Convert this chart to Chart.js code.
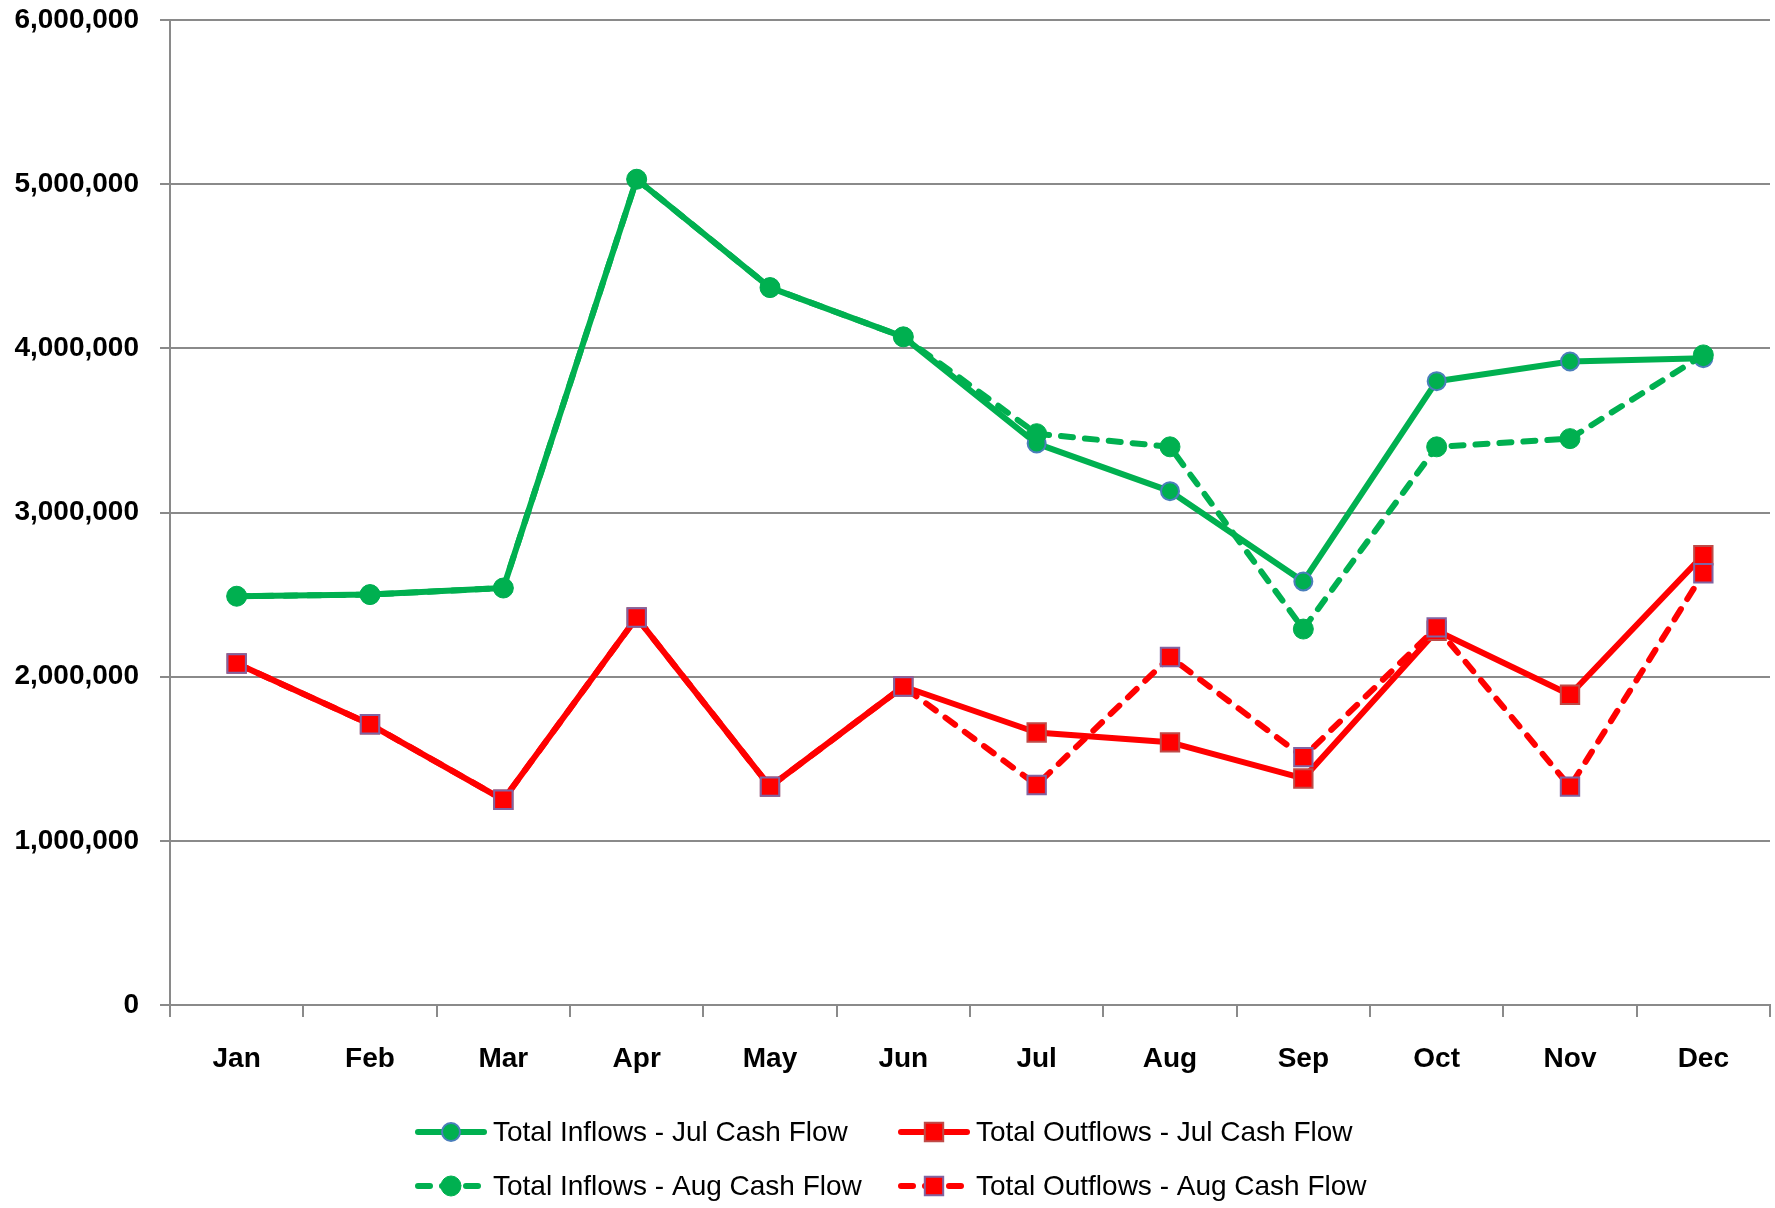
<!DOCTYPE html>
<html>
<head>
<meta charset="utf-8">
<title>Cash Flow – Total Inflows and Outflows</title>
<script src="https://cdn.jsdelivr.net/npm/chart.js@4.4.1/dist/chart.umd.min.js"></script>
<style>
  html, body { margin: 0; padding: 0; background: #ffffff; }
  #wrap { width: 1775px; height: 1208px; }
  canvas { display: block; }
</style>
</head>
<body>
<div id="wrap"><canvas id="cashChart" width="1775" height="1208"></canvas></div>
<script>
// Months on the category axis
const months = ['Jan', 'Feb', 'Mar', 'Apr', 'May', 'Jun', 'Jul', 'Aug', 'Sep', 'Oct', 'Nov', 'Dec'];

// Series values
const inflowsJul  = [2490000, 2500000, 2540000, 5030000, 4370000, 4070000, 3420000, 3130000, 2580000, 3800000, 3920000, 3940000];
const outflowsJul = [2080000, 1710000, 1250000, 2360000, 1330000, 1940000, 1660000, 1600000, 1380000, 2280000, 1890000, 2740000];
const inflowsAug  = [2490000, 2500000, 2540000, 5030000, 4370000, 4070000, 3480000, 3400000, 2290000, 3400000, 3450000, 3960000];
const outflowsAug = [2080000, 1710000, 1250000, 2360000, 1330000, 1940000, 1340000, 2120000, 1510000, 2300000, 1330000, 2630000];

// Series names
const seriesNames = [
  'Total Inflows - Jul Cash Flow',
  'Total Outflows - Jul Cash Flow',
  'Total Inflows - Aug Cash Flow',
  'Total Outflows - Aug Cash Flow'
];

// Value axis range
const yMin = 0;
const yMax = 6000000;
const yStep = 1000000;

const GREEN = '#00B050';
const RED = '#FF0000';
const AXIS_GREY = '#8a8a8a';
const LINE_W = 6;
const DASH = [12, 12];
const FONT_FAMILY = "'Liberation Sans', Arial, sans-serif";

// Legend drawn as two rows of two entries beneath the axis labels
const legendLayout = {
  columns: [415, 898],
  rows: [1132, 1186],
  sampleWidth: 72,
  textGap: 6
};

const cashLegend = {
  id: 'cashLegend',
  afterDraw(chart) {
    const ctx = chart.ctx;
    const sets = chart.data.datasets;
    ctx.save();
    sets.forEach((ds, i) => {
      const x0 = legendLayout.columns[i % 2];
      const y = legendLayout.rows[Math.floor(i / 2)];
      const x1 = x0 + legendLayout.sampleWidth;
      const cx = (x0 + x1) / 2;
      // line sample
      ctx.beginPath();
      ctx.lineWidth = ds.borderWidth;
      ctx.strokeStyle = ds.borderColor;
      ctx.lineCap = 'round';
      ctx.setLineDash(ds.borderDash || []);
      ctx.moveTo(x0 + LINE_W / 2, y);
      ctx.lineTo(x1 - LINE_W / 2, y);
      ctx.stroke();
      ctx.setLineDash([]);
      // marker sample
      ctx.fillStyle = ds.pointBackgroundColor;
      ctx.strokeStyle = ds.pointBorderColor;
      ctx.lineWidth = ds.pointBorderWidth;
      ctx.beginPath();
      if (ds.pointStyle === 'rect') {
        const half = ds.pointRadius * Math.SQRT1_2;
        ctx.rect(cx - half, y - half, half * 2, half * 2);
      } else {
        ctx.arc(cx, y, ds.pointRadius, 0, Math.PI * 2);
      }
      ctx.fill();
      if (ds.pointBorderWidth > 0) ctx.stroke();
      // label
      ctx.fillStyle = '#000000';
      ctx.font = '28px ' + FONT_FAMILY;
      ctx.textAlign = 'left';
      ctx.textBaseline = 'middle';
      ctx.fillText(ds.label, x1 + legendLayout.textGap, y + 1);
    });
    ctx.restore();
  }
};

const ctx = document.getElementById('cashChart').getContext('2d');
new Chart(ctx, {
  type: 'line',
  data: {
    labels: months,
    datasets: [
      {
        label: seriesNames[0],
        data: inflowsJul,
        borderColor: GREEN,
        borderWidth: LINE_W,
        borderCapStyle: 'round',
        borderJoinStyle: 'round',
        pointStyle: 'circle',
        pointRadius: 9,
        pointBackgroundColor: GREEN,
        pointBorderColor: '#4A7EBB',
        pointBorderWidth: 2,
        tension: 0,
        fill: false,
        order: 4
      },
      {
        label: seriesNames[1],
        data: outflowsJul,
        borderColor: RED,
        borderWidth: LINE_W,
        borderCapStyle: 'round',
        borderJoinStyle: 'round',
        pointStyle: 'rect',
        pointRadius: 13,
        pointBackgroundColor: RED,
        pointBorderColor: '#BE4B48',
        pointBorderWidth: 2,
        tension: 0,
        fill: false,
        order: 3
      },
      {
        label: seriesNames[2],
        data: inflowsAug,
        borderColor: GREEN,
        borderWidth: LINE_W,
        borderDash: DASH,
        borderCapStyle: 'round',
        borderJoinStyle: 'round',
        pointStyle: 'circle',
        pointRadius: 10,
        pointBackgroundColor: GREEN,
        pointBorderColor: GREEN,
        pointBorderWidth: 1,
        tension: 0,
        fill: false,
        order: 2
      },
      {
        label: seriesNames[3],
        data: outflowsAug,
        borderColor: RED,
        borderWidth: LINE_W,
        borderDash: DASH,
        borderCapStyle: 'round',
        borderJoinStyle: 'round',
        pointStyle: 'rect',
        pointRadius: 13,
        pointBackgroundColor: RED,
        pointBorderColor: '#8064A2',
        pointBorderWidth: 2,
        tension: 0,
        fill: false,
        order: 1
      }
    ]
  },
  options: {
    responsive: false,
    animation: false,
    events: [],
    layout: { autoPadding: false, padding: { left: 0, right: 5, top: 20, bottom: 0 } },
    plugins: {
      legend: { display: false },
      tooltip: { enabled: false },
      title: { display: false }
    },
    scales: {
      x: {
        offset: true,
        grid: {
          offset: true,
          drawOnChartArea: false,
          drawTicks: true,
          tickLength: 12,
          color: AXIS_GREY,
          lineWidth: 2
        },
        border: { display: true, color: AXIS_GREY, width: 2 },
        ticks: {
          color: '#000000',
          font: { family: FONT_FAMILY, size: 28, weight: 'bold' },
          padding: 25,
          maxRotation: 0,
          autoSkip: false
        },
        afterFit(scale) {
          scale.height = 203;
          scale.paddingLeft = 0;
          scale.paddingRight = 0;
        }
      },
      y: {
        min: yMin,
        max: yMax,
        grid: {
          color: AXIS_GREY,
          lineWidth: 2,
          drawTicks: true,
          tickLength: 10
        },
        border: { display: true, color: AXIS_GREY, width: 2 },
        ticks: {
          stepSize: yStep,
          color: '#000000',
          font: { family: FONT_FAMILY, size: 28, weight: 'bold' },
          padding: 21,
          callback: (v) => Number(v).toLocaleString('en-US')
        },
        afterFit(scale) {
          scale.width = 170;
          scale.paddingTop = 0;
          scale.paddingBottom = 0;
        }
      }
    }
  },
  plugins: [cashLegend]
});
</script>
</body>
</html>
